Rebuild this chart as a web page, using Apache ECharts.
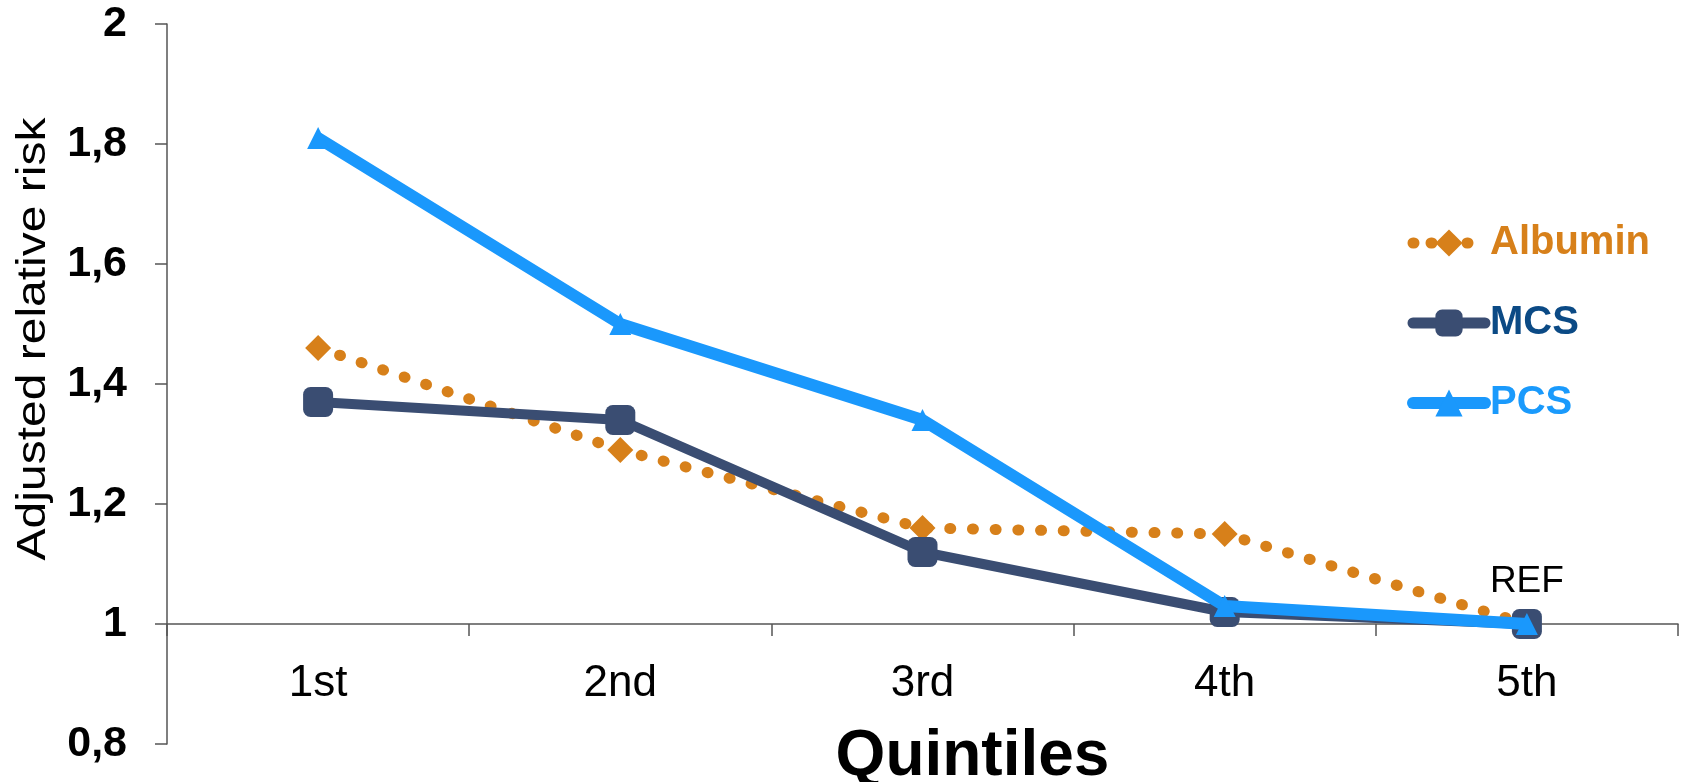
<!DOCTYPE html>
<html>
<head>
<meta charset="utf-8">
<script src="https://cdn.jsdelivr.net/npm/echarts@6/dist/echarts.min.js"></script>
<style>
html,body{margin:0;padding:0;background:#fff;}
#chart{width:1685px;height:782px;}
</style>
</head>
<body>
<div id="chart"></div>
<script>
var categories = ['1st', '2nd', '3rd', '4th', '5th'];
var albumin = [1.46, 1.29, 1.16, 1.15, 1.00];
var mcs = [1.37, 1.34, 1.12, 1.02, 1.00];
var pcs = [1.81, 1.50, 1.34, 1.03, 1.00];
var refLabels = ['', '', '', '', 'REF'];
var yMin = 0.8, yMax = 2, yInterval = 0.2;
var xAxisAt = 1;

var FONT = 'Liberation Sans, Arial, sans-serif';
var gridTop = 24, gridBottom = 38, gridLeft = 167, gridRight = 7;
var gridHeight = 782 - gridTop - gridBottom;
var axisOffset = -(xAxisAt - yMin) / (yMax - yMin) * gridHeight;

var C_ALB = '#D7801A', C_MCS = '#3A4D72', C_PCS = '#1A98FC';

var mcsData = mcs.map(function (v, i) {
  var item = { value: v };
  if (refLabels[i]) {
    item.label = {
      show: true, formatter: refLabels[i], position: 'top', distance: 9,
      color: '#000', fontSize: 37, fontFamily: FONT
    };
  }
  return item;
});

var chart = echarts.init(document.getElementById('chart'));
chart.setOption({
  animation: false,
  backgroundColor: '#fff',
  grid: { left: gridLeft, right: gridRight, top: gridTop, bottom: gridBottom, containLabel: false, outerBoundsMode: 'none' },
  legend: {
    orient: 'vertical', left: 1407, top: 223,
    itemWidth: 72, itemHeight: 34, itemGap: 40, padding: 0,
    textStyle: { fontFamily: FONT, fontSize: 40, fontWeight: 'bold', lineHeight: 40 },
    data: [
      { name: 'Albumin', textStyle: { color: C_ALB },
        lineStyle: { color: C_ALB, width: 11, type: [1, 17], cap: 'round' } },
      { name: 'MCS', textStyle: { color: '#0B4A85' },
        lineStyle: { color: C_MCS, width: 11, type: 'solid', cap: 'round' } },
      { name: 'PCS', textStyle: { color: '#1A9AFC' },
        lineStyle: { color: C_PCS, width: 12, type: 'solid', cap: 'round' } }
    ],
    itemTextGap: 4
  },
  graphic: [{
    type: 'text', x: 34, y: 339, rotation: Math.PI / 2, scaleX: 1.2,
    style: { text: 'Adjusted relative risk', font: '40px ' + FONT, fill: '#000', align: 'center', verticalAlign: 'middle' }
  }],
  xAxis: {
    type: 'category', data: categories, boundaryGap: true,
    offset: axisOffset,
    axisLine: { show: true, lineStyle: { color: '#555', width: 1.5 } },
    axisTick: { show: true, length: 12, inside: false, lineStyle: { color: '#555', width: 1.5 } },
    axisLabel: { margin: 38, fontSize: 44, color: '#000', fontFamily: FONT },
    name: 'Quintiles', nameLocation: 'middle', nameGap: 101,
    nameTextStyle: { fontSize: 64, fontWeight: 'bold', color: '#000', fontFamily: FONT, padding: [0, 0, 0, 100] },
    splitLine: { show: false }
  },
  yAxis: {
    type: 'value', min: yMin, max: yMax, interval: yInterval,
    axisLine: { show: true, lineStyle: { color: '#555', width: 1.5 } },
    axisTick: { show: true, length: 12, lineStyle: { color: '#555', width: 1.5 } },
    axisLabel: {
      margin: 40, fontSize: 43, fontWeight: 'bold', color: '#000', fontFamily: FONT,
      formatter: function (v) { return String(+v.toFixed(1)).replace('.', ','); }
    },
    splitLine: { show: false }
  },
  series: [
    {
      name: 'Albumin', type: 'line', data: albumin, z: 2,
      symbol: 'diamond', symbolSize: 26,
      itemStyle: { color: C_ALB },
      lineStyle: { color: C_ALB, width: 11, type: [1, 21.7], cap: 'round' }
    },
    {
      name: 'MCS', type: 'line', data: mcsData, z: 3,
      symbol: 'roundRect', symbolSize: 30,
      itemStyle: { color: C_MCS },
      lineStyle: { color: C_MCS, width: 10 }
    },
    {
      name: 'PCS', type: 'line', data: pcs, z: 4,
      symbol: 'triangle', symbolSize: 22,
      itemStyle: { color: C_PCS },
      lineStyle: { color: C_PCS, width: 12 }
    }
  ]
});
</script>
</body>
</html>
